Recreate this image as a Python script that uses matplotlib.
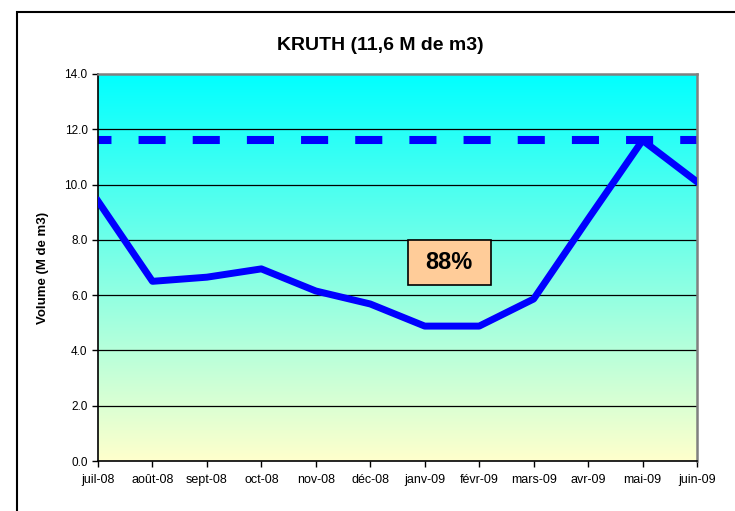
import numpy as np
import matplotlib
matplotlib.use('Agg')
import matplotlib.pyplot as plt
from matplotlib.patches import Rectangle
from matplotlib.colors import LinearSegmentedColormap

plt.rcParams['font.family'] = ['Liberation Sans', 'DejaVu Sans']
plt.rcParams['lines.scale_dashes'] = False

# données
months = ['juil-08', 'août-08', 'sept-08', 'oct-08', 'nov-08', 'déc-08',
          'janv-09', 'févr-09', 'mars-09', 'avr-09', 'mai-09', 'juin-09']
volume = [9.4, 6.5, 6.65, 6.95, 6.15, 5.68, 4.88, 4.88, 5.86, 8.75, 11.6, 10.1]
capacity = [11.6] * len(months)
yticks = [0, 2, 4, 6, 8, 10, 12, 14]
fill_label = '88%'

fig = plt.figure(figsize=(7.35, 5.11), dpi=100)
ax = fig.add_axes([98/735, 1-461/511, 599/735, 387/511])

x = np.arange(len(months))

# fond en dégradé (cyan -> jaune pâle)
cmap = LinearSegmentedColormap.from_list('bg', ['#FFFFCC', '#00FFFF'])
grad = np.linspace(0, 1, 256).reshape(-1, 1)
ax.imshow(grad, cmap=cmap, origin='lower', aspect='auto',
          extent=[0, len(months)-1, 0, 14], zorder=0)

# grille horizontale
for yv in yticks[1:-1]:
    ax.axhline(yv, color='black', lw=0.9, zorder=1)

# capacité (pointillés) et volume
ax.plot(x, capacity, color='#0000FF', lw=5.8,
        linestyle=(9.8, (19.5, 19.5)), zorder=2)
ax.plot(x, volume, color='#0000FF', lw=5, zorder=3, solid_joinstyle='round')

ax.set_xlim(0, len(months)-1)
ax.set_ylim(0, 14)
ax.set_xticks(x)
ax.set_xticklabels(months, fontsize=9)
ax.set_yticks(yticks)
ax.set_yticklabels([f'{v:.1f}' for v in yticks], fontsize=8.5)
ax.tick_params(axis='both', direction='out', length=4, width=1, color='black')
ax.tick_params(axis='y', pad=3.5)
ax.tick_params(axis='x', pad=5)

ax.spines['left'].set_color('black')
ax.spines['bottom'].set_color('black')
ax.spines['left'].set_linewidth(1.2)
ax.spines['bottom'].set_linewidth(1.2)
ax.spines['top'].set_color('#808080')
ax.spines['right'].set_color('#808080')
ax.spines['top'].set_linewidth(1.8)
ax.spines['right'].set_linewidth(1.8)

ax.set_ylabel('Volume (M de m3)', fontsize=9.5, fontweight='bold', labelpad=11)

# étiquette du taux de remplissage
ax.add_patch(Rectangle((0.5175, 0.4548), 0.1385, 0.1162, transform=ax.transAxes,
                       facecolor='#FFCC99', edgecolor='black', lw=1.2, zorder=5))
ax.text(0.5865, 0.5129, fill_label, transform=ax.transAxes, ha='center', va='center',
        fontsize=17, fontweight='bold', zorder=6)

fig.text(380/735, 1-45/511, 'KRUTH (11,6 M de m3)', ha='center', va='center',
         fontsize=14, fontweight='bold')

# cadre du graphique
fig.add_artist(Rectangle((17/735, -0.2), 1.5, 1.2 - 12/511, transform=fig.transFigure,
                         fill=False, edgecolor='black', lw=1.5))

fig.savefig('out.png', dpi=100)
